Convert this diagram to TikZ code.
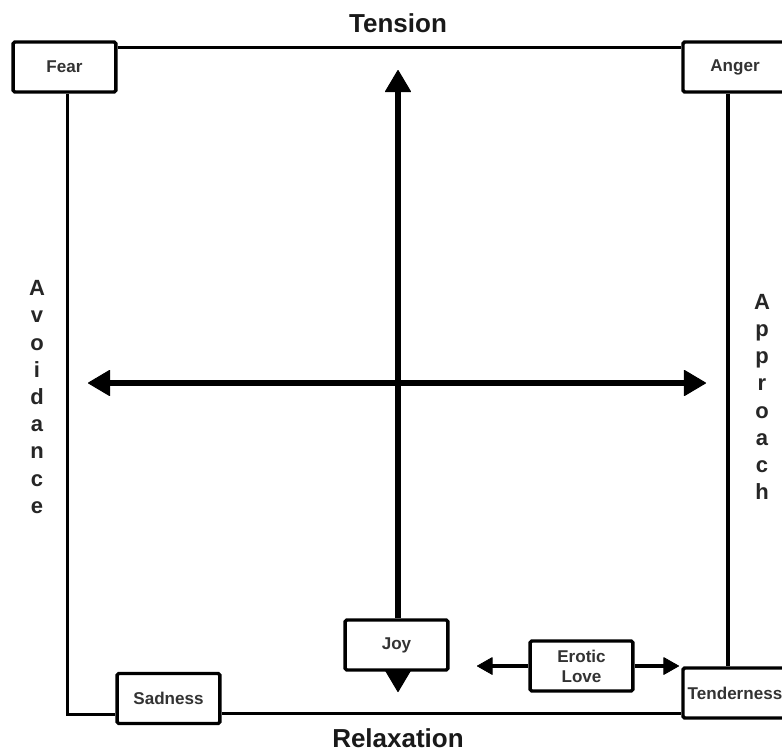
\documentclass[tikz,border=0pt]{standalone}
\usepackage{fontspec}
\setmainfont{Liberation Sans}
\usetikzlibrary{arrows.meta,calc}
\begin{document}
\begin{tikzpicture}[x=0.75pt,y=-0.75pt,
  box/.style={draw=black, line width=2.6pt, rounded corners=1.2pt, fill=white,
    minimum width=77pt, minimum height=37.5pt, inner sep=0.5pt,
    font=\fontsize{12.8}{15}\selectfont\bfseries, text=black!80, align=center},
  frame/.style={line width=2.5pt, draw=black},
  bigtip/.tip={Triangle[length=17pt,width=20pt,line width=0.8pt,round]},
  smalltip/.tip={Triangle[length=12pt,width=13.5pt,line width=0.6pt,round]},
  bigarrow/.style={line width=4.2pt, -bigtip},
  bigboth/.style={line width=4.2pt, bigtip-bigtip},
  smallarrow/.style={line width=3pt, -smalltip},
  title/.style={font=\fontsize{19.5}{22}\selectfont\bfseries, text=black!90},
  side/.style={font=\fontsize{16.5}{20.4}\selectfont\bfseries, text=black!85, align=center}
]
\useasboundingbox (0,0) rectangle (782,754);
\fill[white] (0,0) rectangle (782,754);

% boxes
\node[box] (Fear) at (64.5,67) {Fear};
\node[box, minimum width=78pt] (Anger) at (735,67) {Anger};
\node[box] (Sadness) at (168.5,698.5) {Sadness};
\node[box] (Joy) at (396.5,645) {Joy};
\node[box] (Erotic) at (581.5,666) {Erotic\\Love};
\node[box, minimum width=78pt] (Tender) at (735,693) {Tenderness};

% frame
\draw[frame] ([yshift=-5.25pt]Fear.north east) -- ([yshift=-5.25pt]Anger.north west);
\draw[frame] ([xshift=2pt]Fear.south) |- ([yshift=8.25pt]Sadness.south west);
\coordinate (sb) at ([yshift=9pt]Sadness.south east);
\draw[frame] (sb) -- (sb -| Tender.west);
\draw[frame] ([xshift=-5.25pt]Anger.south) -- ([xshift=-5.25pt]Tender.north);

% axes
\coordinate (Top) at (398,70);
\coordinate (Bot) at (398,692);
\coordinate (Lft) at (88,383);
\coordinate (Rgt) at (706,383);
\draw[bigarrow] (Joy.north -| Top) -- (Top);
\draw[bigarrow] (Joy.south -| Bot) -- (Bot);
\draw[bigboth] (Lft) -- (Rgt);

% erotic love arrows
\coordinate (EL) at (477,666);
\coordinate (ER) at (679,666);
\draw[smallarrow] (Erotic.west) -- (EL);
\draw[smallarrow] (Erotic.east) -- (ER);

% titles
\node[title] (Tension) at (398,23) {Tension};
\node[title] (Relax) at (398,738) {Relaxation};
\node[side] (Avoid) at (37,397) {A\\v\\o\\i\\d\\a\\n\\c\\e};
\node[side] (Appr) at (762,397) {A\\p\\p\\r\\o\\a\\c\\h};
\end{tikzpicture}
\end{document}
